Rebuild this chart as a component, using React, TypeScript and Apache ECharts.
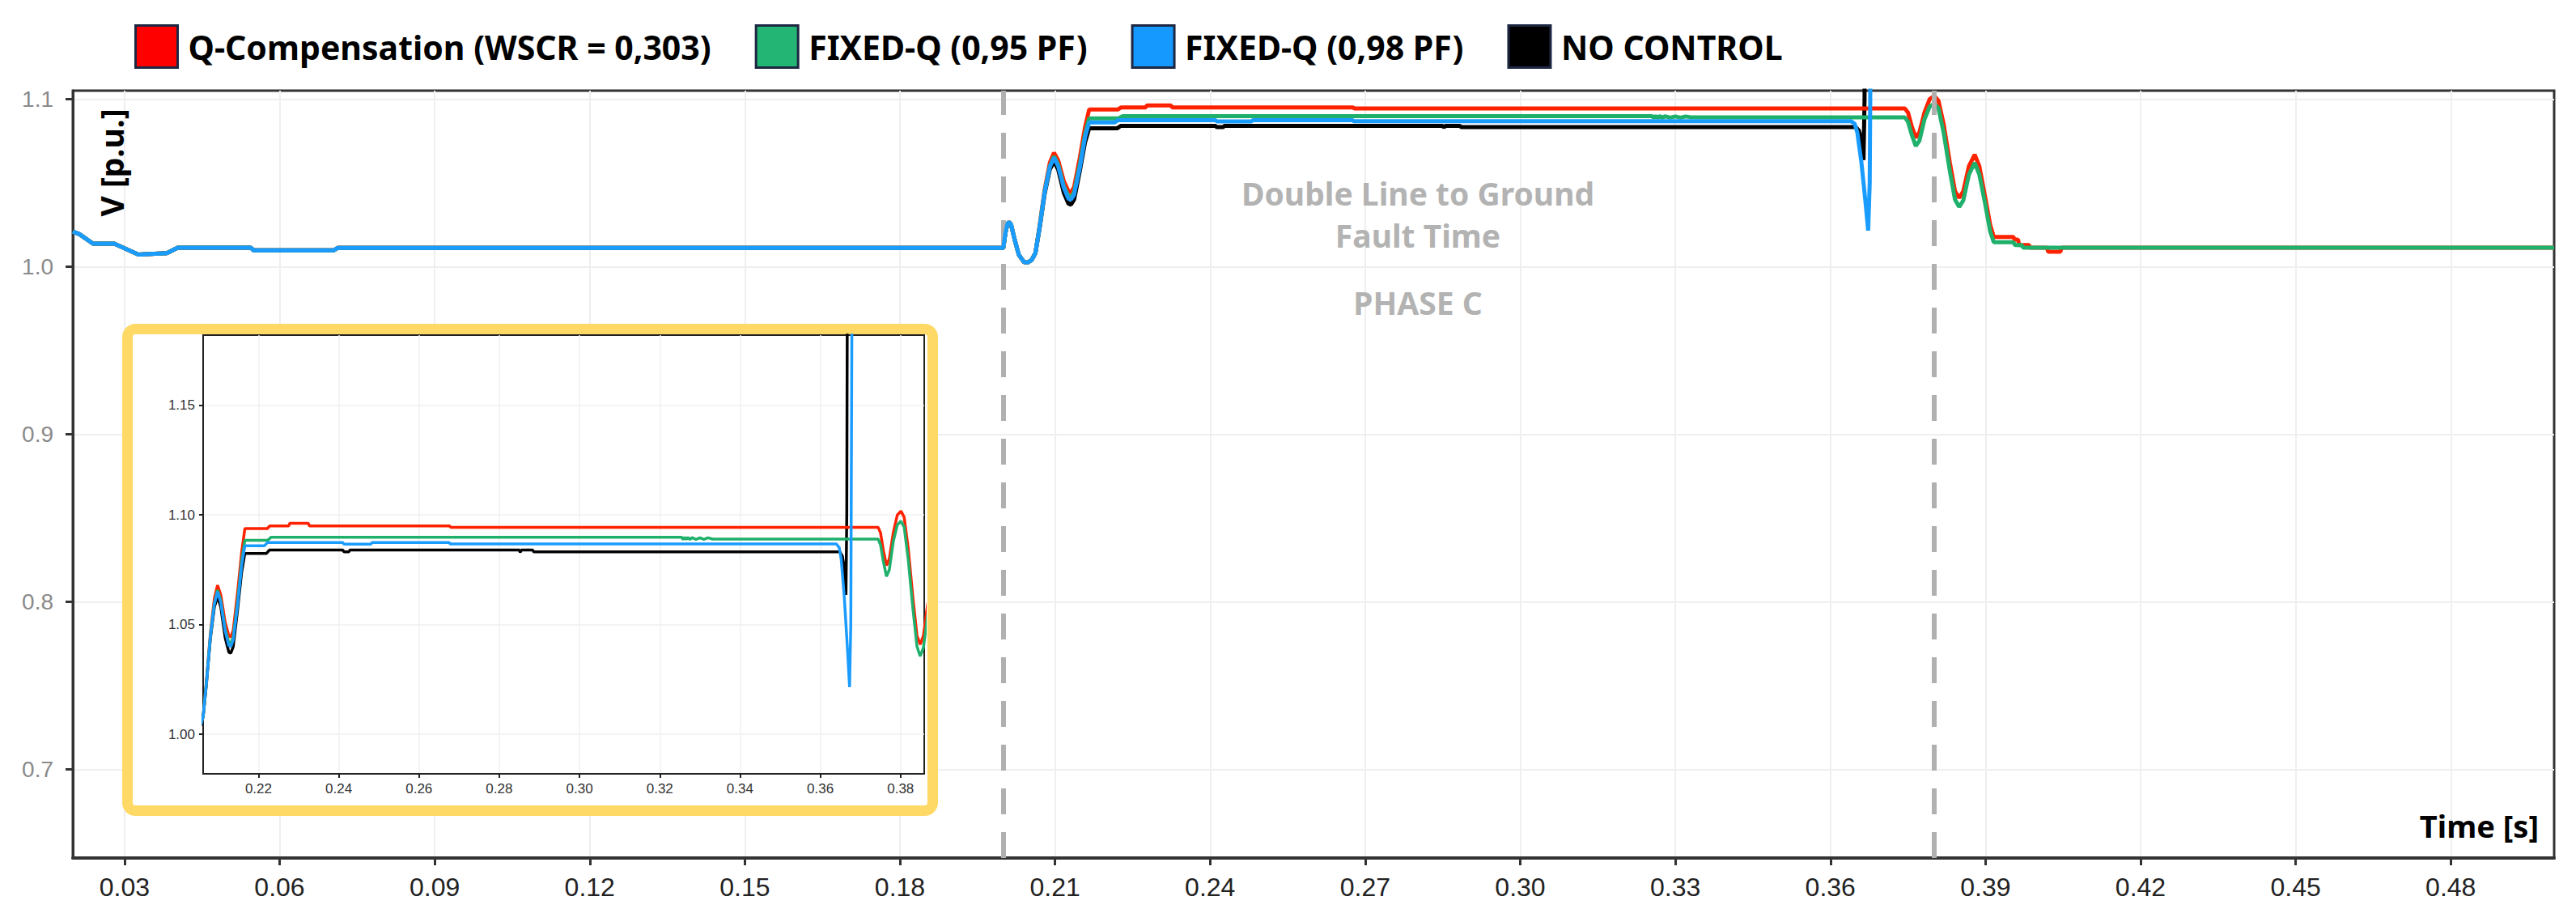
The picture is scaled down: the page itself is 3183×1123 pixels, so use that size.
import React, { useEffect, useRef } from 'react';
import * as echarts from 'echarts';

// ---------- data ----------
const seriesNames = ['Q-Compensation (WSCR = 0,303)', 'FIXED-Q (0,95 PF)', 'FIXED-Q (0,98 PF)', 'NO CONTROL'];
const lineColors = ['#ff2200', '#1fb06b', '#1a9cff', '#000000'];
const legendColors = ['#ff0000', '#22b573', '#1599ff', '#000000'];

const xTicks = [0.03, 0.06, 0.09, 0.12, 0.15, 0.18, 0.21, 0.24, 0.27, 0.3, 0.33, 0.36, 0.39, 0.42, 0.45, 0.48];
const yTicks = [0.7, 0.8, 0.9, 1.0, 1.1];
const insetXTicks = [0.22, 0.24, 0.26, 0.28, 0.3, 0.32, 0.34, 0.36, 0.38];
const insetYTicks = [1.0, 1.05, 1.1, 1.15];

const faultLines = [0.2, 0.3755];

// common pre-fault part (time [s], V [p.u.])
const preFault: [number, number][] = [
  [0.02, 1.0209], [0.0213, 1.0193], [0.0239, 1.0137], [0.028, 1.0137], [0.0327, 1.0072],
  [0.0382, 1.008], [0.0403, 1.0113], [0.0544, 1.0113], [0.055, 1.0097], [0.0705, 1.0097],
  [0.0712, 1.0111], [0.2, 1.0111], [0.2004, 1.02], [0.2008, 1.0255], [0.2011, 1.0266],
  [0.2015, 1.025], [0.2022, 1.016], [0.203, 1.007], [0.204, 1.0027], [0.2047, 1.0024],
  [0.2055, 1.004], [0.2062, 1.008],
];

const redPost: [number, number][] = [
  [0.207, 1.024], [0.208, 1.046], [0.209, 1.062], [0.2098, 1.068], [0.2106, 1.0635], [0.2117, 1.051],
  [0.2126, 1.045], [0.2131, 1.0443], [0.2137, 1.0475], [0.2148, 1.065], [0.2158, 1.083], [0.2166, 1.0938],
  [0.2222, 1.0938], [0.2228, 1.095], [0.2275, 1.095], [0.2278, 1.0962], [0.2324, 1.0962], [0.2327, 1.095],
  [0.2676, 1.095], [0.2679, 1.0944], [0.3744, 1.0944], [0.375, 1.092], [0.3757, 1.084], [0.3765, 1.077],
  [0.3772, 1.08], [0.3782, 1.092], [0.3792, 1.1], [0.3801, 1.1018], [0.3809, 1.099], [0.3819, 1.085],
  [0.3831, 1.062], [0.3841, 1.045], [0.3849, 1.041], [0.3857, 1.045], [0.3868, 1.06], [0.3879, 1.0668],
  [0.3888, 1.06], [0.3899, 1.042], [0.3909, 1.025], [0.3916, 1.0177], [0.3954, 1.0177], [0.3956, 1.0161],
  [0.3963, 1.0161], [0.3965, 1.0129], [0.3984, 1.0129], [0.3987, 1.0113], [0.4019, 1.0113], [0.4021, 1.0089],
  [0.4045, 1.0089], [0.4047, 1.0113], [0.5, 1.0113],
];

const greenPost: [number, number][] = [
  [0.207, 1.0235], [0.208, 1.045], [0.209, 1.06], [0.2098, 1.0658], [0.2106, 1.061], [0.2117, 1.048],
  [0.2126, 1.042], [0.2131, 1.0414], [0.2137, 1.0445], [0.2148, 1.061], [0.2158, 1.079], [0.2166, 1.0885],
  [0.2223, 1.0885], [0.2231, 1.0898], [0.3255, 1.0898], [0.3258, 1.0888], [0.3262, 1.0898], [0.3266, 1.0888],
  [0.327, 1.0898], [0.3275, 1.0888], [0.328, 1.0897], [0.329, 1.0889], [0.33, 1.0896], [0.331, 1.0889],
  [0.332, 1.0896], [0.3332, 1.089], [0.3744, 1.089], [0.375, 1.0865], [0.3757, 1.079], [0.3765, 1.072],
  [0.3772, 1.075], [0.3782, 1.088], [0.3792, 1.0955], [0.3801, 1.0972], [0.3809, 1.0945], [0.3819, 1.08],
  [0.3831, 1.057], [0.3841, 1.04], [0.3849, 1.0356], [0.3857, 1.0395], [0.3868, 1.055], [0.3879, 1.062],
  [0.3888, 1.055], [0.3899, 1.038], [0.3909, 1.021], [0.3916, 1.0145], [0.3954, 1.0145], [0.3957, 1.0129],
  [0.397, 1.0129], [0.3973, 1.0113], [0.5, 1.0113],
];

const bluePost: [number, number][] = [
  [0.207, 1.023], [0.208, 1.0445], [0.209, 1.0595], [0.2098, 1.065], [0.2106, 1.06], [0.2117, 1.047],
  [0.2126, 1.0405], [0.2131, 1.04], [0.2137, 1.043], [0.2148, 1.059], [0.2158, 1.077], [0.2166, 1.086],
  [0.2215, 1.086], [0.2222, 1.0874], [0.241, 1.0874], [0.2413, 1.0867], [0.248, 1.0867], [0.2483, 1.0874],
  [0.2675, 1.0874], [0.2678, 1.0868], [0.364, 1.0868], [0.3647, 1.0852], [0.3652, 1.08], [0.366, 1.062],
  [0.3668, 1.038], [0.3673, 1.0215], [0.3676, 1.05], [0.368, 1.25],
];

const blackPost: [number, number][] = [
  [0.207, 1.0225], [0.208, 1.0435], [0.209, 1.058], [0.2098, 1.0628], [0.2106, 1.058], [0.2117, 1.044],
  [0.2126, 1.0375], [0.2131, 1.037], [0.2137, 1.04], [0.2148, 1.057], [0.2158, 1.074], [0.2166, 1.0825],
  [0.222, 1.0825], [0.2227, 1.084], [0.241, 1.084], [0.2413, 1.0832], [0.2425, 1.0832], [0.2428, 1.084],
  [0.285, 1.084], [0.2852, 1.083], [0.2855, 1.084], [0.2883, 1.084], [0.2886, 1.0832], [0.3649, 1.0832],
  [0.3655, 1.0812], [0.366, 1.076], [0.3664, 1.0636], [0.3666, 1.1], [0.3668, 1.25],
];

const seriesData = [redPost, greenPost, bluePost, blackPost].map((p) => preFault.concat(p));
const mainZ = [3, 4, 5, 2];

// ---------- option ----------
const FONT = 'Noto Sans';

function buildOption(): any {
  const mainSeries = seriesNames.map((name, i) => ({
    name,
    type: 'line',
    xAxisIndex: 0,
    yAxisIndex: 0,
    data: seriesData[i],
    showSymbol: false,
    symbol: 'none',
    z: mainZ[i],
    itemStyle: { color: lineColors[i] },
    lineStyle: { color: lineColors[i], width: 5 },
    ...(i === 2
      ? {
          markLine: {
            silent: true,
            symbol: 'none',
            label: { show: false },
            lineStyle: { color: '#b0b0b0', width: 6, type: [32, 22] },
            data: faultLines.map((x) => ({ xAxis: x })),
          },
        }
      : {}),
  }));
  const insetSeries = seriesNames.map((name, i) => ({
    name,
    type: 'line',
    xAxisIndex: 1,
    yAxisIndex: 1,
    data: seriesData[i],
    showSymbol: false,
    symbol: 'none',
    z: 14 + mainZ[i],
    itemStyle: { color: lineColors[i] },
    lineStyle: { color: lineColors[i], width: 3.5 },
  }));

  return {
    animation: false,
    backgroundColor: '#ffffff',
    textStyle: { fontFamily: FONT },
    legend: {
      left: 161,
      top: 25,
      icon: 'rect',
      itemWidth: 52,
      itemHeight: 52,
      itemGap: 54,
      itemStyle: { borderColor: '#1d2742', borderWidth: 3 },
      textStyle: { fontSize: 41, fontWeight: 'bold', color: '#000', fontFamily: FONT, padding: [0, 0, 0, 8] },
      data: seriesNames.map((n, i) => ({ name: n, itemStyle: { color: legendColors[i] } })),
    },
    grid: [
      { left: 90, right: 27, top: 112, bottom: 63, show: true, borderColor: '#333', borderWidth: 3, backgroundColor: 'transparent' },
      { left: 251, top: 414, width: 891, height: 542, show: true, borderColor: '#222', borderWidth: 2, backgroundColor: 'transparent', z: 12 },
    ],
    xAxis: [
      {
        type: 'value', gridIndex: 0, min: 0.02, max: 0.5,
        axisLine: { show: true, onZero: false, lineStyle: { color: '#333', width: 4 } },
        axisTick: { show: true, length: 9, customValues: xTicks, lineStyle: { color: '#333', width: 3 } },
        axisLabel: { customValues: xTicks, formatter: (v: number) => v.toFixed(2), fontSize: 32, color: '#222', margin: 20, fontFamily: 'Liberation Sans' },
        splitLine: { show: true, lineStyle: { color: '#efefef', width: 2 } },
      },
      {
        type: 'value', gridIndex: 1, min: 0.2062, max: 0.3859, z: 12,
        axisLine: { show: true, onZero: false, lineStyle: { color: '#222', width: 2 } },
        axisTick: { show: true, length: 5, customValues: insetXTicks, lineStyle: { color: '#222', width: 2 } },
        axisLabel: { customValues: insetXTicks, formatter: (v: number) => v.toFixed(2), fontSize: 17, color: '#333', margin: 10, fontFamily: 'Liberation Sans' },
        splitLine: { show: true, lineStyle: { color: '#f0f0f0', width: 1.5 } },
      },
    ],
    yAxis: [
      {
        type: 'value', gridIndex: 0, min: 0.647, max: 1.105,
        axisLine: { show: true, onZero: false, lineStyle: { color: '#333', width: 3 } },
        axisTick: { show: true, length: 9, customValues: yTicks, lineStyle: { color: '#333', width: 3 } },
        axisLabel: { customValues: yTicks, formatter: (v: number) => v.toFixed(1), fontSize: 28, color: '#8a8a8a', margin: 24, fontFamily: 'Liberation Sans' },
        splitLine: { show: true, lineStyle: { color: '#efefef', width: 2 } },
      },
      {
        type: 'value', gridIndex: 1, min: 0.982, max: 1.182, z: 12,
        axisLine: { show: true, onZero: false, lineStyle: { color: '#222', width: 2 } },
        axisTick: { show: true, length: 5, customValues: insetYTicks, lineStyle: { color: '#222', width: 2 } },
        axisLabel: { customValues: insetYTicks, formatter: (v: number) => v.toFixed(2), fontSize: 17, color: '#333', margin: 10, fontFamily: 'Liberation Sans' },
        splitLine: { show: true, lineStyle: { color: '#f0f0f0', width: 1.5 } },
      },
    ],
    graphic: [
      {
        type: 'rect', z: 10,
        shape: { x: 157.5, y: 406.5, width: 995, height: 595, r: 10 },
        style: { fill: '#ffffff', stroke: '#ffd966', lineWidth: 13 },
      },
      {
        type: 'text', z: 20, x: 137, y: 201, rotation: Math.PI / 2,
        style: { text: 'V [p.u.]', align: 'center', verticalAlign: 'middle', fontSize: 39, fontWeight: 'bold', fill: '#000', fontFamily: FONT },
      },
      {
        type: 'text', z: 20, x: 3137, y: 1020,
        style: { text: 'Time [s]', align: 'right', verticalAlign: 'middle', fontSize: 38, fontWeight: 'bold', fill: '#000', fontFamily: FONT },
      },
      {
        type: 'text', z: 20, x: 1752, y: 238,
        style: { text: 'Double Line to Ground', align: 'center', verticalAlign: 'middle', fontSize: 39, fontWeight: 'bold', fill: '#b3b3b3', fontFamily: FONT },
      },
      {
        type: 'text', z: 20, x: 1752, y: 290,
        style: { text: 'Fault Time', align: 'center', verticalAlign: 'middle', fontSize: 39, fontWeight: 'bold', fill: '#b3b3b3', fontFamily: FONT },
      },
      {
        type: 'text', z: 20, x: 1752, y: 373,
        style: { text: 'PHASE C', align: 'center', verticalAlign: 'middle', fontSize: 39, fontWeight: 'bold', fill: '#b3b3b3', fontFamily: FONT },
      },
    ],
    series: [...mainSeries, ...insetSeries],
  };
}

export default function App() {
  const ref = useRef<HTMLDivElement>(null);
  useEffect(() => {
    if (!ref.current) return;
    const chart = echarts.init(ref.current, null, { renderer: 'svg' });
    chart.setOption(buildOption());
    return () => chart.dispose();
  }, []);
  return (
    <div
      ref={ref}
      style={{ position: 'absolute', left: 0, top: 0, width: 3183, height: 1123, background: '#fff' }}
    />
  );
}
